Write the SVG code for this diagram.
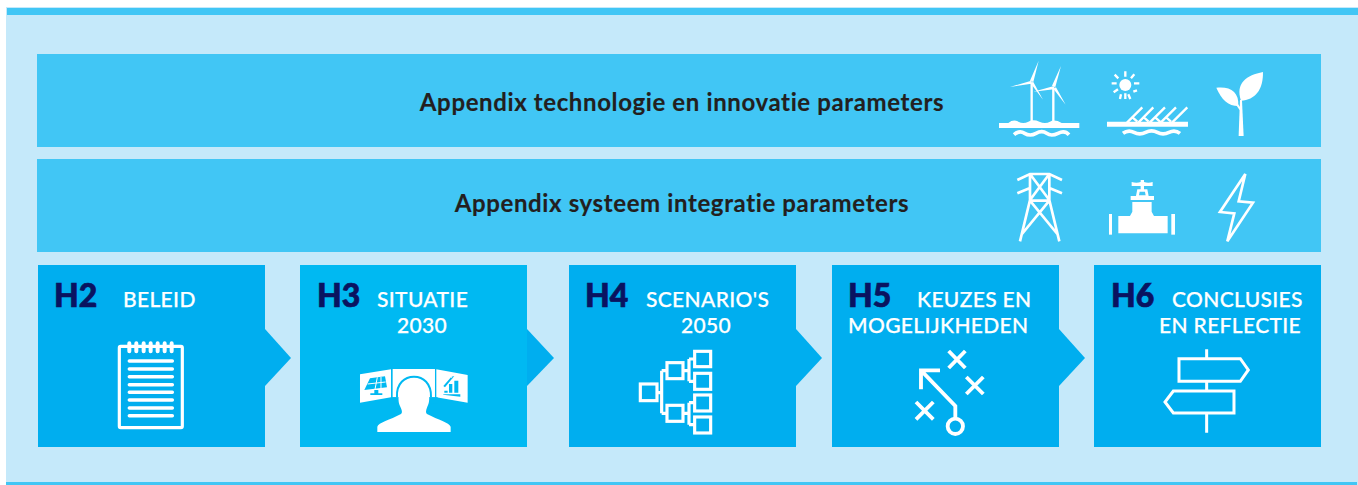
<svg xmlns="http://www.w3.org/2000/svg" width="1358" height="485" viewBox="0 0 1358 485">
<style>
.band{fill:#41c6f5}.card{fill:#00aeef}.card3{fill:#00b9f2}
text{font-family:Lato,"Liberation Sans",sans-serif;font-variant-ligatures:none;font-feature-settings:"liga" 0}
.ttl{font-size:24px;font-weight:700;fill:#231f20;text-anchor:middle;letter-spacing:.62px;stroke:#231f20;stroke-width:.15px}
.h{font-size:32px;font-weight:900;fill:#0a1360;stroke:#0a1360;stroke-width:.7px}
.lb{font-size:21px;font-weight:500;fill:#fff;letter-spacing:.35px;stroke:#fff;stroke-width:.25px}
.z{fill:none;stroke:#fff;stroke-linecap:butt;stroke-linejoin:miter}
.w{fill:#fff;stroke:none}
</style>
<rect x="0" y="0" width="1358" height="485" fill="#fff"/>
<g id="panel">
<rect x="6" y="7" width="1352" height="478" fill="#c5e9fa"/>
<rect x="7" y="8" width="1351" height="7" fill="#41c6f5"/>
<rect x="6" y="482" width="1351" height="3" fill="#41c6f5"/>
</g>
<g id="connectors" fill="#00aeef">
<polygon points="265,329 291,358 265,386"/>
<polygon points="527,329 554,358 527,386"/>
<polygon points="796,329 822,358 796,386"/>
<polygon points="1059,329 1085,358 1059,386"/>
</g>
<g id="band-technologie">
<rect class="band" x="37" y="54" width="1284" height="93"/>
<text class="ttl" x="682" y="111">Appendix technologie en innovatie parameters</text>
<g transform="translate(980 50) scale(.3333)">
<g class="z" stroke-width="7"><path d="M155 97V216M220 112V216"/></g>
<g class="w">
<path d="M150 92L176 32L160 96ZM154 92L90 111L154 101ZM152 100L189 149L160 96Z"/>
<path d="M216 107L243 48L226 111ZM222 108L160 125L222 118ZM220 116L257 164L228 112Z"/>
<path d="M57 219H85Q100 207 115 215T145 215T178 215T210 215T245 219H298V234H57Z"/>
<circle cx="436" cy="105" r="18"/>
<path d="M381 215H624V230H381Z"/>
</g>
<g class="z" stroke-width="11"><path d="M102 254Q118 240 134 250T168 250T200 250T234 250T267 254"/></g>
<g class="z" stroke-width="11"><path d="M429 250Q445 238 462 247T497 247T532 247T567 247T600 250"/></g>
<g class="z" stroke-width="7"><path d="M441 218L487 172M475 218L520 172M509 218L555 172M542 218L588 172M576 218L622 172M455 200L472 215M489 200L506 215M523 200L540 215M556 200L573 215"/></g>
<g class="w">
<path d="M776 258L780 150L786 150L791 258Z"/>
<path d="M849 66C800 75 765 100 783 152C825 150 850 120 849 66Z"/>
<path d="M709 113C750 108 778 125 775 168C745 168 725 150 709 113Z"/>
</g>
<g class="z" stroke-width="6"><path d="M765 155L784 182"/></g>
<g class="z" stroke-width="7"><path d="M436 64V80M436 130V147M395 100H410M462 100H478M404 74L415 85M463 73L453 85M401 127L414 118M460 125L471 121M423 133L420 147M445 133L451 147"/></g>
</g>
</g>
<g id="band-systeem">
<rect class="band" x="37" y="159" width="1284" height="93"/>
<text class="ttl" x="682" y="212">Appendix systeem integratie parameters</text>
<g transform="translate(1000 160) scale(.3333)">
<g class="z" stroke-width="8">
<path d="M52 60L90 42H148L186 60M52 100L90 84M186 100L148 84M90 42V120L60 244M148 42V120L178 244M90 42L148 120M148 42L90 120M90 122H148M90 122L172 222M148 122L66 222"/>
<path d="M736 42L660 156L703 160L682 244L759 128L716 124Z"/>
</g>
<g class="w">
<path d="M395 66Q410 70 422 66V60H432V66Q445 70 458 66V78H432V88H442L446 108H462V120H392V108H408L412 88H422V78H395Z"/>
<path d="M397 126H455V155L462 168H503V220H355V168H390L397 155Z"/>
<rect x="327" y="162" width="9" height="62"/>
<rect x="514" y="162" width="11" height="62"/>
</g>
<path d="M419 95H435L437 106H417Z" fill="#41c6f5"/>
</g>
</g>
<g id="card-h2">
<rect class="card" x="38" y="265" width="227" height="182"/>
<text class="h" x="54" y="307">H2</text>
<text class="lb" x="123" y="307">BELEID</text>
<g transform="translate(30 260) scale(.3333)">
<rect class="z" x="268" y="259" width="189" height="244" rx="4" stroke-width="9.5"/>
<g class="z" stroke-width="10.5" style="stroke-linecap:round"><path d="M298 303H427M298 327H427M298 350H427M298 374H427M298 397H427M298 420H427M298 444H427M298 467H427"/></g>
<g class="z" stroke-width="12" style="stroke-linecap:round"><path d="M298 250V274M319 250V274M341 250V274M362 250V274M383 250V274M404 250V274M425 250V274"/></g>
</g>
</g>
<g id="card-h3">
<rect class="card3" x="300" y="265" width="227" height="182"/>
<text class="h" x="317" y="307">H3</text>
<text class="lb" x="377" y="307">SITUATIE</text>
<text class="lb" x="397" y="333">2030</text>
<g transform="translate(295 260) scale(.3333)">
<g class="w">
<path d="M195 343L288 328V412L195 428Z"/>
<path d="M293 327H420V412H293Z"/>
<path d="M424 328L518 345V428L424 412Z"/>
</g>
<path d="M306 412C303 370 330 350 357 350C384 350 410 370 408 412" fill="none" stroke="#00b9f2" stroke-width="6"/>
<rect x="288" y="412" width="140" height="20" fill="#00b9f2"/>
<path class="w" d="M247 516V500C250 488 285 480 318 462C322 458 322 452 316 440C308 425 311 408 312 395C318 368 338 358 357 358C376 358 396 368 401 395C403 408 405 425 397 440C392 452 392 458 396 462C430 480 463 488 467 500V516Z"/>
<g fill="#00b9f2">
<path d="M225 355L270 349L276 382L208 390Z"/>
<path d="M238 390H250V400H262V405H226V400H238Z"/>
<path d="M448 392H458V398H448ZM462 372H472V398H462ZM478 362H490V398H478ZM446 403H496V410L444 404Z"/>
<path d="M445 378L468 352L474 358L470 350L478 348L450 382Z"/>
</g>
<g class="z" stroke-width="3"><path d="M247 352L240 388M258 351L258 386M218 372L272 366"/></g>
</g>
</g>
<g id="card-h4">
<rect class="card" x="569" y="265" width="227" height="182"/>
<text class="h" x="585" y="307">H4</text>
<text class="lb" x="646" y="307">SCENARIO'S</text>
<text class="lb" x="681" y="333">2050</text>
<g transform="translate(565 260) scale(.3333)">
<g class="z" stroke-width="9.5">
<rect x="226" y="372" width="50" height="50"/>
<rect x="306" y="308" width="48" height="48"/>
<rect x="306" y="436" width="48" height="48"/>
<rect x="389" y="274" width="48" height="46"/>
<rect x="389" y="340" width="48" height="48"/>
<rect x="389" y="405" width="48" height="48"/>
<rect x="389" y="471" width="48" height="48"/>
<path d="M276 398H290M290 332V460M290 332H306M290 460H306M354 332H372M372 297V364M372 297H389M372 364H389M354 460H372M372 428V494M372 428H389M372 494H389"/>
</g>
</g>
</g>
<g id="card-h5">
<rect class="card" x="832" y="265" width="227" height="182"/>
<text class="h" x="848" y="307">H5</text>
<text class="lb" x="917" y="307">KEUZES EN</text>
<text class="lb" x="848" y="333">MOGELIJKHEDEN</text>
<g transform="translate(825 260) scale(.3333)">
<g class="z" stroke-width="11.5">
<path d="M371 273L421 324M421 273L371 324M424 351L475 402M475 351L424 402M273 426L325 478M325 426L273 478"/>
<path d="M345 331H288V388M288 331L391 438V475"/>
<circle cx="391" cy="499" r="23"/>
</g>
</g>
</g>
<g id="card-h6">
<rect class="card" x="1094" y="265" width="227" height="182"/>
<text class="h" x="1111" y="307">H6</text>
<text class="lb" x="1172" y="307">CONCLUSIES</text>
<text class="lb" x="1159" y="333">EN REFLECTIE</text>
<g transform="translate(1088 260) scale(.3333)">
<g class="z" stroke-width="9">
<path d="M356 268V296M356 364V391M356 460V518"/>
<path d="M273 296H457L481 330L457 364H273Z"/>
<path d="M438 393H256L231 426L256 459H438Z"/>
</g>
</g>
</g>
</svg>
